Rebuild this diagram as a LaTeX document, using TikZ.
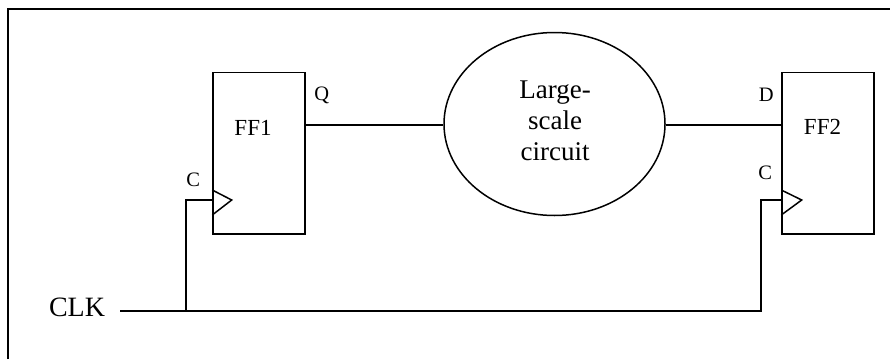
\documentclass[tikz,border=0pt]{standalone}
\usepackage{fontspec}
\setmainfont{Liberation Serif}
\usetikzlibrary{shapes.geometric,calc}
\begin{document}
\begin{tikzpicture}[x=1pt,y=-1pt,line width=1.5pt,
  ffbox/.style={draw,rectangle,minimum width=92pt,minimum height=161.5pt,inner sep=0pt},
  pin/.style={font=\fontsize{20.5}{24}\selectfont,inner sep=0pt,anchor=base},
  ffname/.style={font=\fontsize{23}{27}\selectfont,inner sep=0pt,anchor=base},
  clocktri/.style={line width=1.5pt,line join=miter}]
  \useasboundingbox (0,0) rectangle (890,359);
  % outer frame (left and top edges)
  \draw[line width=2pt] (8,359) -- (8,9) -- (890,9);

  % flip-flops
  \node[ffbox] (ff1) at (259,153.3) {};
  \node[ffbox] (ff2) at (828,153.3) {};
  \node[ffname] (ff1name) at (253,135) {FF1};
  \node[ffname] (ff2name) at (822.5,134.5) {FF2};
  \node[pin] (qlab) at (321.7,100) {Q};
  \node[pin] (c1lab) at (193.3,186.7) {C};
  \node[pin] (dlab) at (766.3,101.5) {D};
  \node[pin] (c2lab) at (765.3,179) {C};

  % clock inputs
  \draw[clocktri] (ff1.west |- 0,190) -- (231.7,200) -- (ff1.west |- 0,215);
  \draw[clocktri] (ff2.west |- 0,190) -- (801.7,200) -- (ff2.west |- 0,215);

  % combinational block
  \node[draw,ellipse,minimum width=221pt,minimum height=183pt,inner sep=0pt] (ell) at (554.5,124) {};
  \node[align=center,inner sep=0pt,font=\fontsize{27}{31}\selectfont] (elltext) at (555,120.5) {Large-\\scale\\circuit};

  % pin coordinates
  \coordinate (qpin) at (ff1.east |- 0,125);
  \coordinate (dpin) at (ff2.west |- 0,125);
  \coordinate (ck1) at (ff1.west |- 0,200);
  \coordinate (ck2) at (ff2.west |- 0,200);

  % data path
  \draw (qpin) -- (qpin -| ell.west);
  \draw (dpin -| ell.east) -- (dpin);

  % clock distribution
  \node[inner sep=0pt,anchor=base,font=\fontsize{28}{32}\selectfont] (clk) at (77,316) {CLK};
  \coordinate (clkin) at (120,311);
  \coordinate (j1) at (186,311);
  \coordinate (j2) at (761,311);
  \draw (clkin) -- (j2) |- (ck2);
  \draw (j1) |- (ck1);
\end{tikzpicture}
\end{document}
